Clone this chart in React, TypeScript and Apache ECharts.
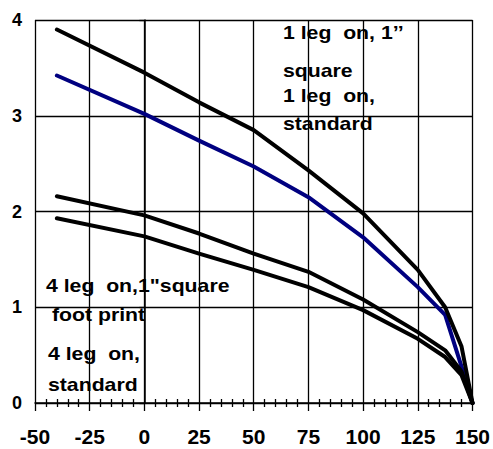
import React, { useEffect, useRef } from "react";
import * as echarts from "echarts";

const temps = [-40, 0, 25, 50, 75, 100, 125, 137.5, 145, 150];
const oneLegSquare = [3.9, 3.45, 3.14, 2.85, 2.43, 1.98, 1.39, 1.0, 0.59, 0];
const oneLegStandard = [3.42, 3.02, 2.74, 2.47, 2.15, 1.73, 1.21, 0.92, 0.38, 0];
const fourLegSquare = [2.16, 1.96, 1.77, 1.56, 1.37, 1.08, 0.74, 0.55, 0.33, 0];
const fourLegStandard = [1.93, 1.74, 1.56, 1.39, 1.21, 0.97, 0.67, 0.48, 0.29, 0];
const xTicks = [-50, -25, 0, 25, 50, 75, 100, 125, 150];
const yTicks = [0, 1, 2, 3, 4];

const annotations = [
  { text: "1 leg  on, 1\u2019\u2019", x: 283, y: 39 },
  { text: "square", x: 283, y: 77 },
  { text: "1 leg  on,", x: 283, y: 102 },
  { text: "standard", x: 283, y: 130 },
  { text: '4 leg  on,1"square', x: 46, y: 292 },
  { text: "foot print", x: 52, y: 321 },
  { text: "4 leg  on,", x: 48, y: 360 },
  { text: "standard", x: 48, y: 391 },
];

const FONT = "'Liberation Sans', Arial, sans-serif";

export default function App() {
  const ref = useRef<HTMLDivElement>(null);
  useEffect(() => {
    if (!ref.current) return;
    const chart = echarts.init(ref.current, null, { renderer: "svg" });
    const mk = (name: string, vals: number[], color: string) => ({
      name,
      type: "line",
      data: temps.map((t, i) => [t, vals[i]]),
      showSymbol: false,
      symbol: "none",
      lineStyle: { width: 4, color, cap: "round", join: "round" },
      itemStyle: { color },
      z: 3,
    });
    chart.setOption({
      animation: false,
      backgroundColor: "#fff",
      grid: { left: 35, top: 20, right: 19, bottom: 46, containLabel: false },
      xAxis: [
        {
          type: "value",
          min: xTicks[0],
          max: xTicks[xTicks.length - 1],
          interval: 25,
          position: "bottom",
          axisLine: { show: true, lineStyle: { color: "#000", width: 1.5 } },
          axisTick: { show: true, length: 8, lineStyle: { color: "#000", width: 1.3 } },
          minorTick: { show: true, splitNumber: 5, length: 4, lineStyle: { color: "#000", width: 1.3 } },
          splitLine: { show: true, lineStyle: { color: "#000", width: 1.3 } },
          axisLabel: {
            margin: 23,
            fontSize: 21,
            fontWeight: "bold",
            fontFamily: FONT,
            color: "#000",
          },
        },
        {
          type: "value",
          min: xTicks[0],
          max: xTicks[xTicks.length - 1],
          interval: 25,
          position: "bottom",
          offset: 0,
          axisLine: { show: false },
          axisTick: { show: false, inside: true },
          minorTick: { show: true, splitNumber: 5, length: 4, lineStyle: { color: "#000", width: 1.3 } },
          splitLine: { show: false },
          axisLabel: { show: false },
        },
      ],
      yAxis: {
        type: "value",
        min: yTicks[0],
        max: yTicks[yTicks.length - 1],
        interval: 1,
        axisLine: { show: true, lineStyle: { color: "#000", width: 1.5 } },
        axisTick: { show: true, length: 5, lineStyle: { color: "#000", width: 1.3 } },
        splitLine: { show: true, lineStyle: { color: "#000", width: 1.3 } },
        axisLabel: {
          margin: 13,
          fontSize: 18,
          fontWeight: "bold",
          fontFamily: FONT,
          color: "#000",
        },
      },
      series: [
        mk("1 leg on, standard", oneLegStandard, "#000080"),
        mk("1 leg on, 1'' square", oneLegSquare, "#000"),
        mk('4 leg on,1"square foot print', fourLegSquare, "#000"),
        mk("4 leg on, standard", fourLegStandard, "#000"),
      ],
      graphic: annotations.map((a) => ({
        type: "text",
        x: a.x,
        y: a.y - 6.5,
        scaleX: 1.18,
        z: 10,
        style: {
          text: a.text,
          fill: "#000",
          fontSize: 18,
          fontWeight: "bold",
          fontFamily: FONT,
          verticalAlign: "middle",
          align: "left",
        },
      })),
    });
    return () => chart.dispose();
  }, []);
  return <div ref={ref} style={{ width: 493, height: 449, position: "absolute", left: 0, top: 0 }} />;
}
